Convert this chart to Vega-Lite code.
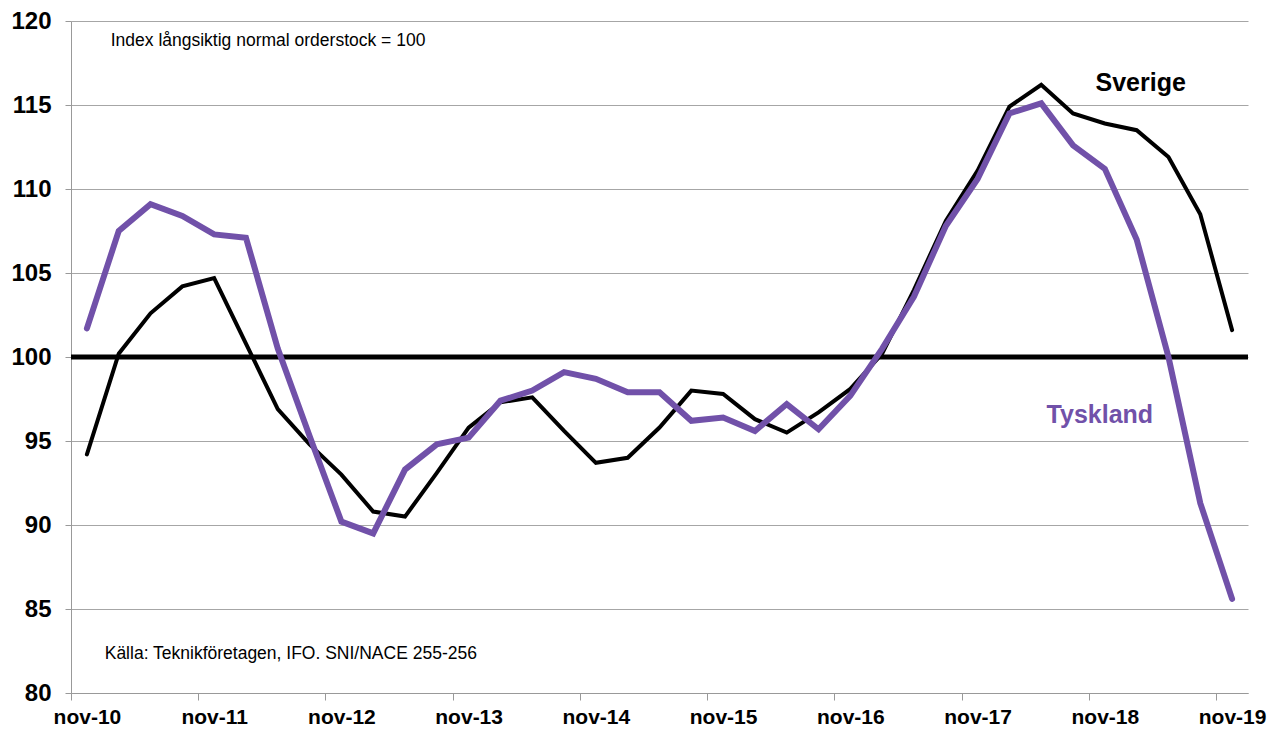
{
  "$schema": "https://vega.github.io/schema/vega-lite/v6.json",
  "width": 1177,
  "height": 672,
  "autosize": {"type": "none"},
  "padding": {"left": 71, "top": 21, "right": 22, "bottom": 38},
  "background": "white",
  "config": {"view": {"stroke": null}, "font": "Liberation Sans"},
  "datasets": {
    "lines": [
      {"period": "nov-10", "series": "Sverige", "value": 94.2},
      {"period": "feb-11", "series": "Sverige", "value": 100.2},
      {"period": "maj-11", "series": "Sverige", "value": 102.6},
      {"period": "aug-11", "series": "Sverige", "value": 104.2},
      {"period": "nov-11", "series": "Sverige", "value": 104.7},
      {"period": "feb-12", "series": "Sverige", "value": 100.8},
      {"period": "maj-12", "series": "Sverige", "value": 96.9},
      {"period": "aug-12", "series": "Sverige", "value": 94.8},
      {"period": "nov-12", "series": "Sverige", "value": 93.0},
      {"period": "feb-13", "series": "Sverige", "value": 90.8},
      {"period": "maj-13", "series": "Sverige", "value": 90.5},
      {"period": "aug-13", "series": "Sverige", "value": 93.1},
      {"period": "nov-13", "series": "Sverige", "value": 95.8},
      {"period": "feb-14", "series": "Sverige", "value": 97.3},
      {"period": "maj-14", "series": "Sverige", "value": 97.6},
      {"period": "aug-14", "series": "Sverige", "value": 95.6},
      {"period": "nov-14", "series": "Sverige", "value": 93.7},
      {"period": "feb-15", "series": "Sverige", "value": 94.0},
      {"period": "maj-15", "series": "Sverige", "value": 95.8},
      {"period": "aug-15", "series": "Sverige", "value": 98.0},
      {"period": "nov-15", "series": "Sverige", "value": 97.8},
      {"period": "feb-16", "series": "Sverige", "value": 96.3},
      {"period": "maj-16", "series": "Sverige", "value": 95.5},
      {"period": "aug-16", "series": "Sverige", "value": 96.7},
      {"period": "nov-16", "series": "Sverige", "value": 98.1},
      {"period": "feb-17", "series": "Sverige", "value": 100.2},
      {"period": "maj-17", "series": "Sverige", "value": 104.0},
      {"period": "aug-17", "series": "Sverige", "value": 108.1},
      {"period": "nov-17", "series": "Sverige", "value": 111.1},
      {"period": "feb-18", "series": "Sverige", "value": 114.9},
      {"period": "maj-18", "series": "Sverige", "value": 116.2},
      {"period": "aug-18", "series": "Sverige", "value": 114.5},
      {"period": "nov-18", "series": "Sverige", "value": 113.9},
      {"period": "feb-19", "series": "Sverige", "value": 113.5},
      {"period": "maj-19", "series": "Sverige", "value": 111.9},
      {"period": "aug-19", "series": "Sverige", "value": 108.5},
      {"period": "nov-19", "series": "Sverige", "value": 101.6},
      {"period": "nov-10", "series": "Tyskland", "value": 101.7},
      {"period": "feb-11", "series": "Tyskland", "value": 107.5},
      {"period": "maj-11", "series": "Tyskland", "value": 109.1},
      {"period": "aug-11", "series": "Tyskland", "value": 108.4},
      {"period": "nov-11", "series": "Tyskland", "value": 107.3},
      {"period": "feb-12", "series": "Tyskland", "value": 107.1},
      {"period": "maj-12", "series": "Tyskland", "value": 100.5},
      {"period": "aug-12", "series": "Tyskland", "value": 95.3},
      {"period": "nov-12", "series": "Tyskland", "value": 90.2},
      {"period": "feb-13", "series": "Tyskland", "value": 89.5},
      {"period": "maj-13", "series": "Tyskland", "value": 93.3},
      {"period": "aug-13", "series": "Tyskland", "value": 94.8},
      {"period": "nov-13", "series": "Tyskland", "value": 95.2},
      {"period": "feb-14", "series": "Tyskland", "value": 97.4},
      {"period": "maj-14", "series": "Tyskland", "value": 98.0},
      {"period": "aug-14", "series": "Tyskland", "value": 99.1},
      {"period": "nov-14", "series": "Tyskland", "value": 98.7},
      {"period": "feb-15", "series": "Tyskland", "value": 97.9},
      {"period": "maj-15", "series": "Tyskland", "value": 97.9},
      {"period": "aug-15", "series": "Tyskland", "value": 96.2},
      {"period": "nov-15", "series": "Tyskland", "value": 96.4},
      {"period": "feb-16", "series": "Tyskland", "value": 95.6},
      {"period": "maj-16", "series": "Tyskland", "value": 97.2},
      {"period": "aug-16", "series": "Tyskland", "value": 95.7},
      {"period": "nov-16", "series": "Tyskland", "value": 97.7},
      {"period": "feb-17", "series": "Tyskland", "value": 100.5},
      {"period": "maj-17", "series": "Tyskland", "value": 103.6},
      {"period": "aug-17", "series": "Tyskland", "value": 107.8},
      {"period": "nov-17", "series": "Tyskland", "value": 110.6},
      {"period": "feb-18", "series": "Tyskland", "value": 114.5},
      {"period": "maj-18", "series": "Tyskland", "value": 115.1},
      {"period": "aug-18", "series": "Tyskland", "value": 112.6},
      {"period": "nov-18", "series": "Tyskland", "value": 111.2},
      {"period": "feb-19", "series": "Tyskland", "value": 107.0},
      {"period": "maj-19", "series": "Tyskland", "value": 100.0},
      {"period": "aug-19", "series": "Tyskland", "value": 91.3},
      {"period": "nov-19", "series": "Tyskland", "value": 85.6}
    ]
  },
  "layer": [
    {
      "data": {"name": "lines"},
      "transform": [{"filter": "datum.series === 'Sverige'"}],
      "mark": {"type": "line", "color": "#000000", "strokeWidth": 4, "strokeCap": "round"},
      "encoding": {
        "x": {
          "field": "period", "type": "ordinal", "sort": null,
          "scale": {
            "type": "band", "paddingInner": 0, "paddingOuter": 0,
            "domain": ["nov-10","feb-11","maj-11","aug-11","nov-11","feb-12","maj-12","aug-12","nov-12","feb-13","maj-13","aug-13","nov-13","feb-14","maj-14","aug-14","nov-14","feb-15","maj-15","aug-15","nov-15","feb-16","maj-16","aug-16","nov-16","feb-17","maj-17","aug-17","nov-17","feb-18","maj-18","aug-18","nov-18","feb-19","maj-19","aug-19","nov-19"]
          },
          "axis": {
            "values": ["nov-10","nov-11","nov-12","nov-13","nov-14","nov-15","nov-16","nov-17","nov-18","nov-19"],
            "tickOffset": -15.9, "labelOffset": 15.9,
            "labelAngle": 0, "title": null, "grid": false,
            "labelFont": "Liberation Sans", "labelFontWeight": "bold", "labelFontSize": 21, "labelColor": "#000000",
            "tickColor": "#999999", "domainColor": "#999999", "tickSize": 7, "labelPadding": 6
          }
        },
        "y": {
          "field": "value", "type": "quantitative",
          "scale": {"domain": [80, 120], "nice": false, "zero": false},
          "axis": {
            "values": [80, 85, 90, 95, 100, 105, 110, 115, 120], "title": null, "grid": true,
            "gridColor": "#a6a6a6", "gridWidth": 1, "tickColor": "#999999", "domainColor": "#999999",
            "tickSize": 6, "labelPadding": 14,
            "labelFont": "Liberation Sans", "labelFontWeight": "bold", "labelFontSize": 24, "labelColor": "#000000"
          }
        }
      }
    },
    {
      "data": {"values": [{"ref": 100}]},
      "mark": {"type": "rule", "color": "#000000", "strokeWidth": 5},
      "encoding": {"y": {"field": "ref", "type": "quantitative"}}
    },
    {
      "data": {"name": "lines"},
      "transform": [{"filter": "datum.series === 'Tyskland'"}],
      "mark": {"type": "line", "color": "#7151A9", "strokeWidth": 6, "strokeCap": "round"},
      "encoding": {
        "x": {"field": "period", "type": "ordinal", "sort": null},
        "y": {"field": "value", "type": "quantitative"}
      }
    },
    {
      "data": {"values": [{"period": "feb-11", "value": 118.8, "label": "Index långsiktig normal orderstock = 100"}]},
      "mark": {"type": "text", "align": "left", "baseline": "middle", "dx": -8, "fontSize": 17.5, "font": "Liberation Sans", "color": "#000000"},
      "encoding": {
        "x": {"field": "period", "type": "ordinal", "sort": null},
        "y": {"field": "value", "type": "quantitative"},
        "text": {"field": "label"}
      }
    },
    {
      "data": {"values": [{"period": "feb-11", "value": 82.3, "label": "Källa: Teknikföretagen,  IFO. SNI/NACE 255-256"}]},
      "mark": {"type": "text", "align": "left", "baseline": "middle", "dx": -14, "fontSize": 17.5, "font": "Liberation Sans", "color": "#000000"},
      "encoding": {
        "x": {"field": "period", "type": "ordinal", "sort": null},
        "y": {"field": "value", "type": "quantitative"},
        "text": {"field": "label"}
      }
    },
    {
      "data": {"values": [{"period": "feb-19", "value": 116.3, "label": "Sverige"}]},
      "mark": {"type": "text", "align": "center", "baseline": "middle", "dx": 4, "fontSize": 25, "fontWeight": "bold", "font": "Liberation Sans", "color": "#000000"},
      "encoding": {
        "x": {"field": "period", "type": "ordinal", "sort": null},
        "y": {"field": "value", "type": "quantitative"},
        "text": {"field": "label"}
      }
    },
    {
      "data": {"values": [{"period": "nov-18", "value": 96.55, "label": "Tyskland"}]},
      "mark": {"type": "text", "align": "center", "baseline": "middle", "dx": -5, "fontSize": 25, "fontWeight": "bold", "font": "Liberation Sans", "color": "#7151A9"},
      "encoding": {
        "x": {"field": "period", "type": "ordinal", "sort": null},
        "y": {"field": "value", "type": "quantitative"},
        "text": {"field": "label"}
      }
    }
  ]
}
